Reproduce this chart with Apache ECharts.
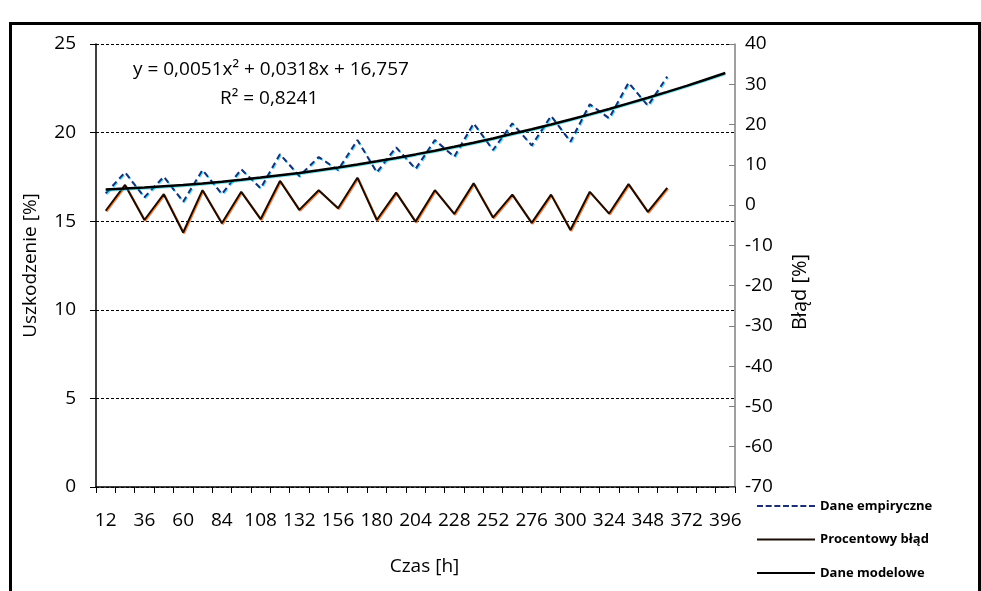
<!DOCTYPE html>
<html>
<head>
<meta charset="utf-8">
<script src="https://cdn.jsdelivr.net/npm/echarts@6/dist/echarts.min.js"></script>
<style>
html,body{margin:0;padding:0;background:#fff;}
#chart{width:981px;height:591px;}
</style>
</head>
<body>
<div id="chart"></div>
<script>
var categories = ['12','24','36','48','60','72','84','96','108','120','132','144','156','168','180','192','204','216','228','240','252','264','276','288','300','312','324','336','348','360','372','384','396'];
var empiricalValues = [16.57,17.76,16.35,17.51,16.10,17.89,16.53,17.93,16.86,18.78,17.55,18.62,17.89,19.58,17.76,19.17,17.95,19.58,18.64,20.52,19.02,20.52,19.28,20.94,19.49,21.60,20.81,22.82,21.52,23.16];
var errorValues = [-1.4,5.0,-3.7,2.7,-6.8,3.7,-4.5,3.3,-3.5,6.0,-1.2,3.7,-0.8,6.8,-3.7,3.1,-4.1,3.7,-2.2,5.4,-3.1,2.6,-4.4,2.6,-6.2,3.3,-2.1,5.2,-1.7,4.3];
var modelValues = [16.79,16.84,16.90,16.97,17.04,17.13,17.23,17.34,17.46,17.59,17.72,17.87,18.03,18.20,18.38,18.57,18.77,18.98,19.20,19.43,19.67,19.93,20.19,20.46,20.74,21.03,21.33,21.65,21.97,22.30,22.64,23.00,23.36];
var leftTicks = {min:0, max:25, interval:5};
var rightTicks = {min:-70, max:40, interval:10};
var seriesNames = ['Dane empiryczne','Procentowy błąd','Dane modelowe'];
var trendText = 'y = 0,0051x² + 0,0318x + 16,757';
var r2Text = 'R² = 0,8241';

var FONT = '"Open Sans", sans-serif';
var dashIcon = 'path://M0,0h6v2h-6zM8.67,0h6v2h-6zM17.33,0h6v2h-6zM26,0h6v2h-6zM34.67,0h6v2h-6zM43.33,0h6v2h-6zM52,0h6v2h-6z';
var solidIcon = 'path://M0,0h58v2h-58z';
var chart = echarts.init(document.getElementById('chart'), null, {renderer:'canvas'});
chart.setOption({
  backgroundColor:'#ffffff',
  animation:false,
  grid:{left:96, right:246, top:44, bottom:104, containLabel:false},
  legend:{
    orient:'vertical', left:752, top:492, itemWidth:58, itemHeight:2, itemGap:15.5,
    textStyle:{fontFamily:FONT, fontSize:13, fontWeight:'bold', color:'#000', lineHeight:18},
    padding:[5,5,5,5],
    data:[
      {name:seriesNames[0], icon:dashIcon, itemStyle:{color:'#1c2f6e'}},
      {name:seriesNames[1], icon:solidIcon, itemStyle:{color:'#1a0c04'}},
      {name:seriesNames[2], icon:solidIcon, itemStyle:{color:'#000'}}
    ]
  },
  xAxis:{
    type:'category', data:categories, boundaryGap:true,
    name:'Czas [h]', nameLocation:'middle', nameGap:70,
    nameTextStyle:{fontFamily:FONT, fontSize:19, color:'#000', padding:[0,0,0,18]},
    axisLine:{lineStyle:{color:'#000', width:1.5}},
    axisTick:{show:true, interval:0, length:6, lineStyle:{color:'#000'}},
    axisLabel:{interval:1, fontFamily:FONT, fontSize:19, color:'#000', margin:24},
    splitLine:{show:false}
  },
  yAxis:[{
    type:'value', min:leftTicks.min, max:leftTicks.max, interval:leftTicks.interval,
    name:'Uszkodzenie [%]', nameLocation:'middle', nameGap:56, nameRotate:90,
    nameTextStyle:{fontFamily:FONT, fontSize:19, color:'#000'},
    axisLine:{show:true, lineStyle:{color:'#000', width:1.5}},
    axisTick:{show:true, length:6, lineStyle:{color:'#000'}},
    axisLabel:{fontFamily:FONT, fontSize:19, color:'#000', margin:20},
    splitLine:{show:true, lineStyle:{color:'#000', type:[3,2], width:1}}
  },{
    type:'value', position:'right', min:rightTicks.min, max:rightTicks.max, interval:rightTicks.interval,
    axisLine:{show:true, lineStyle:{color:'#808080', width:1.5}},
    axisTick:{show:true, inside:true, length:6, lineStyle:{color:'#808080'}},
    axisLabel:{fontFamily:FONT, fontSize:19, color:'#000', margin:10},
    splitLine:{show:false}
  }],
  series:[{
    name:seriesNames[0], type:'line', yAxisIndex:0, data:empiricalValues,
    symbol:'none', smooth:false,
    lineStyle:{color:'#1c2f6e', width:2, type:[6,4], shadowColor:'rgba(0,200,255,0.6)', shadowBlur:0, shadowOffsetX:1, shadowOffsetY:1},
    itemStyle:{color:'#1c2f6e'}
  },{
    name:seriesNames[1], type:'line', yAxisIndex:1, data:errorValues,
    symbol:'none',
    lineStyle:{color:'#1a0c04', width:2, shadowColor:'rgba(240,110,30,0.8)', shadowBlur:0, shadowOffsetX:1, shadowOffsetY:1},
    itemStyle:{color:'#1a0c04'}
  },{
    name:seriesNames[2], type:'line', yAxisIndex:0, data:modelValues,
    symbol:'none',
    lineStyle:{color:'#000', width:2.5, shadowColor:'rgba(0,200,220,0.5)', shadowBlur:0, shadowOffsetX:0, shadowOffsetY:1},
    itemStyle:{color:'#000'}
  }],
  graphic:[
    {type:'rect', left:8, top:21, shape:{x:0, y:0, width:969, height:620}, style:{fill:null, stroke:'#000', lineWidth:3}, silent:true, z:100},
    {type:'text', left:133, top:60, style:{text:trendText, fontFamily:FONT, fontSize:19, fill:'#000'}},
    {type:'text', left:220, top:89, style:{text:r2Text, fontFamily:FONT, fontSize:19, fill:'#000'}},
    {type:'text', x:800, y:292, rotation:Math.PI/2, style:{text:'Błąd [%]', fontFamily:FONT, fontSize:20, fill:'#000', align:'center', verticalAlign:'middle'}}
  ]
});
</script>
</body>
</html>
